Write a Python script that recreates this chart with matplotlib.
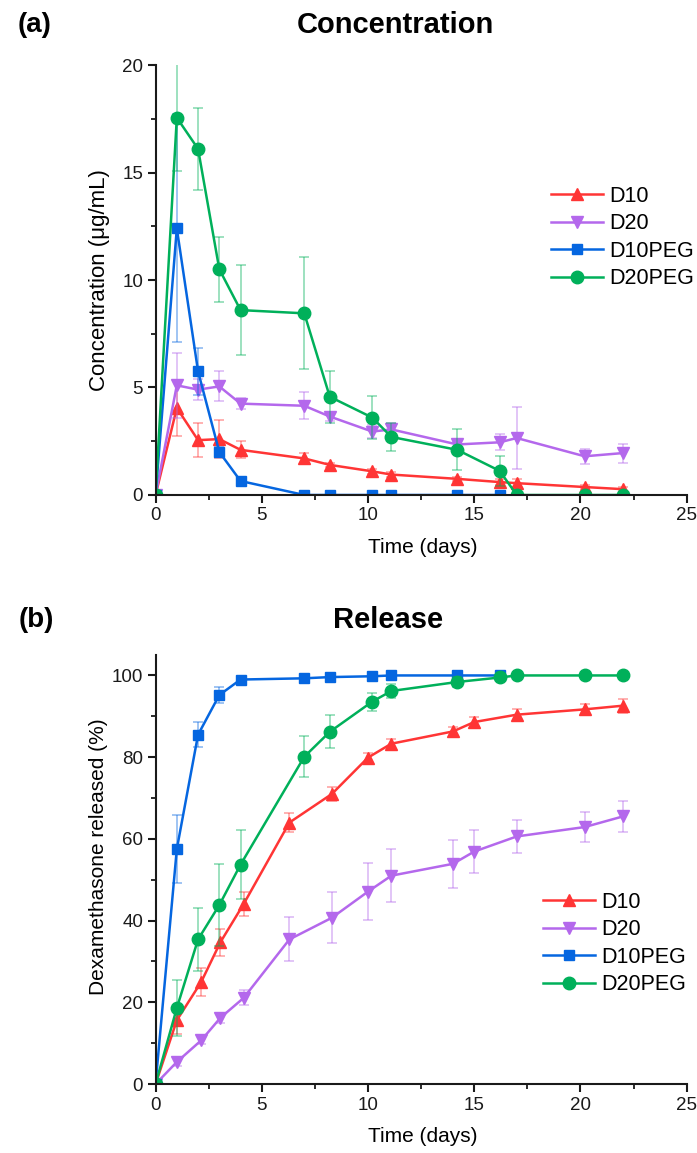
import matplotlib
matplotlib.use("Agg")
import matplotlib.pyplot as plt
from matplotlib.ticker import MultipleLocator

plt.rcParams["font.family"] = ["Liberation Sans", "DejaVu Sans"]

# ---- (a) Concentration ----
t_conc = [0, 1, 2, 3, 4, 7, 8.2, 10.2, 11.1, 14.2, 16.2, 17, 20.2, 22]
c_d10 = [0, 4.05, 2.55, 2.6, 2.1, 1.7, 1.4, 1.1, 0.95, 0.75, 0.6, 0.55, 0.37, 0.27]
c_d10_err = [0, 1.3, 0.8, 0.9, 0.4, 0.25, 0.1, 0.12, 0.1, 0.1, 0.15, 0.2, 0.1, 0.1]
c_d20 = [0, 5.1, 4.9, 5.05, 4.25, 4.15, 3.65, 2.95, 3.05, 2.35, 2.45, 2.65, 1.8, 1.95]
c_d20_err = [0, 1.5, 0.5, 0.7, 0.25, 0.63, 0.22, 0.3, 0.3, 0.12, 0.38, 1.45, 0.36, 0.44]
c_d10peg = [0, 12.4, 5.75, 2.0, 0.65, 0, 0, 0, 0, 0, 0]
c_d10peg_err = [0, 5.3, 1.1, 0.25, 0.1, 0, 0, 0, 0, 0, 0]
c_d20peg = [0, 17.55, 16.1, 10.5, 8.6, 8.45, 4.57, 3.6, 2.7, 2.1, 1.12, 0, 0, 0]
c_d20peg_err = [0, 2.5, 1.9, 1.5, 2.1, 2.6, 1.2, 1.0, 0.65, 0.95, 0.7, 0, 0, 0]

# ---- (b) Release ----
t_rel = [0, 1, 2.15, 3.05, 4.15, 6.3, 8.3, 10, 11.1, 14, 15, 17, 20.2, 22]
t_rel_peg = [0, 1, 2, 3, 4, 7, 8.2, 10.2, 11.1, 14.2, 16.2, 17, 20.2, 22]
r_d10 = [0, 15.6, 25.0, 34.7, 44.1, 64.0, 71.0, 79.9, 83.3, 86.3, 88.6, 90.4, 91.7, 92.6]
r_d10_err = [0, 3.3, 3.4, 3.3, 2.9, 2.4, 1.8, 1.0, 1.2, 1.0, 1.3, 1.5, 1.4, 1.7]
r_d20 = [0, 5.4, 10.7, 16.2, 21.1, 35.4, 40.7, 47.1, 51.0, 53.9, 56.9, 60.6, 62.9, 65.5]
r_d20_err = [0, 1.0, 1.0, 1.3, 1.8, 5.4, 6.2, 7.0, 6.5, 5.9, 5.2, 4.0, 3.6, 3.7]
r_d10peg = [0, 57.5, 85.5, 95.2, 99.0, 99.3, 99.6, 99.8, 100, 100, 100]
r_d10peg_err = [0, 8.4, 3.1, 2.0, 0.5, 0.3, 0.3, 0.3, 0.2, 0.2, 0.2]
r_d20peg = [0, 18.6, 35.4, 43.8, 53.7, 80.1, 86.2, 93.6, 96.2, 98.4, 99.5, 100, 100, 100]
r_d20peg_err = [0, 6.8, 7.7, 10, 8.5, 5.0, 4.0, 2.2, 1.6, 1.2, 0.5, 0.3, 0.3, 0.3]

labels = ["D10", "D20", "D10PEG", "D20PEG"]
colors = ["#ff3535", "#b468ec", "#0566e0", "#00b05a"]
markers = ["^", "v", "s", "o"]
msizes = [8.5, 8.5, 7.5, 9]

fig = plt.figure(figsize=(6.97, 11.53), dpi=100)
ax1 = fig.add_axes([0.2232, 0.5707, 0.762, 0.3729])
ax2 = fig.add_axes([0.2232, 0.0598, 0.762, 0.3721])


def draw(ax, series):
    for (t, y, e), lab, c, m, ms in zip(series, labels, colors, markers, msizes):
        n = len(y)
        ax.errorbar(t[:n], y, yerr=e, fmt="none", ecolor=c, alpha=0.45,
                    elinewidth=1.2, capsize=3.5, capthick=1.2)
        ax.plot(t[:n], y, color=c, marker=m, markersize=ms, lw=1.8, label=lab)


draw(ax1, [(t_conc, c_d10, c_d10_err), (t_conc, c_d20, c_d20_err),
           (t_conc, c_d10peg, c_d10peg_err), (t_conc, c_d20peg, c_d20peg_err)])
draw(ax2, [(t_rel, r_d10, r_d10_err), (t_rel, r_d20, r_d20_err),
           (t_rel_peg, r_d10peg, r_d10peg_err), (t_rel_peg, r_d20peg, r_d20peg_err)])

ax1.set_ylim(0, 20)
ax1.yaxis.set_major_locator(MultipleLocator(5))
ax1.yaxis.set_minor_locator(MultipleLocator(2.5))
ax1.set_ylabel("Concentration (μg/mL)", fontsize=16)
ax2.set_ylim(0, 105)
ax2.yaxis.set_major_locator(MultipleLocator(20))
ax2.yaxis.set_minor_locator(MultipleLocator(10))
ax2.set_ylabel("Dexamethasone released (%)", fontsize=15)

for ax in (ax1, ax2):
    ax.set_xlim(0, 25)
    ax.xaxis.set_major_locator(MultipleLocator(5))
    ax.xaxis.set_minor_locator(MultipleLocator(2.5))
    ax.set_xlabel("Time (days)", fontsize=15)
    ax.spines["top"].set_visible(False)
    ax.spines["right"].set_visible(False)
    for s in ("left", "bottom"):
        ax.spines[s].set_linewidth(1.5)
        ax.spines[s].set_color("#1a1a1a")
    ax.tick_params(which="major", direction="out", length=6, width=1.5,
                   labelsize=13.5, colors="#1a1a1a", pad=3)
    ax.tick_params(which="minor", direction="out", length=3.5, width=1.3,
                   colors="#1a1a1a")
    ax.xaxis.set_label_coords(0.503, -0.1)
    ax.xaxis.label.set_va("top")

ax1.yaxis.set_label_coords(-0.085, 0.5)
ax2.yaxis.set_label_coords(-0.09, 0.53)

ax1.legend(loc="upper left", bbox_to_anchor=(0.7905, 0.8387),
           bbox_transform=fig.transFigure, frameon=False, fontsize=15.5,
           handlelength=2.4, handletextpad=0.3, labelspacing=0.3,
           borderpad=0, borderaxespad=0, numpoints=1)
ax2.legend(loc="upper left", bbox_to_anchor=(0.779, 0.2264),
           bbox_transform=fig.transFigure, frameon=False, fontsize=15.5,
           handlelength=2.4, handletextpad=0.3, labelspacing=0.3,
           borderpad=0, borderaxespad=0, numpoints=1)

fig.text(0.567, 0.978, "Concentration", ha="center", va="center",
         fontsize=21, fontweight="bold")
fig.text(0.557, 0.462, "Release", ha="center", va="center",
         fontsize=21, fontweight="bold")
fig.text(0.025, 0.978, "(a)", ha="left", va="center", fontsize=20,
         fontweight="bold")
fig.text(0.027, 0.462, "(b)", ha="left", va="center", fontsize=20,
         fontweight="bold")

fig.savefig("out.png", dpi=100)
